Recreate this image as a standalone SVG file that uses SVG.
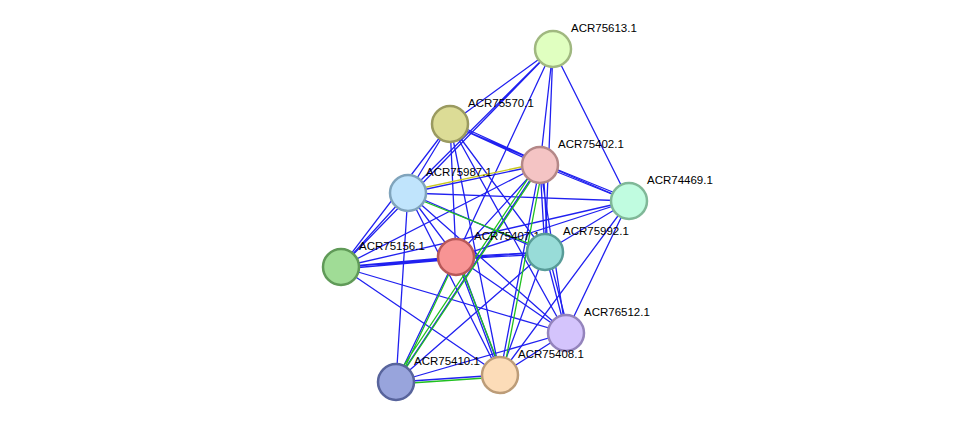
<svg xmlns="http://www.w3.org/2000/svg" width="975" height="428" viewBox="0 0 975 428">
<style>
.e{stroke:#2020f0;stroke-width:1.3;fill:none}
.g{stroke:#20c020;stroke-width:1.3;fill:none}
.y{stroke:#c8c820;stroke-width:1.3;fill:none}
.n{stroke-width:2.5}
text{font-family:"Liberation Sans",Arial,sans-serif;font-size:11.5px;fill:#000}
</style>
<rect width="975" height="428" fill="#fff"/>
<g id="connectors">
<path class="e" d="M553 49L450 124M553 49L408 193M553 49L540 165M553 49L629 201M553 49L456 257M553 49L545 252M553 49L341 267"/>
<path class="e" d="M450 124L540 165M451 122L541 163M450 124L629 201M450 124L408 193M450 124L341 267M450 124L456 257M450 124L545 252M450 124L566 333M450 124L500 375"/>
<path class="e" d="M540 165L629 201M541 163L630 199M540 165L408 193M540 165L341 267M540 165L456 257M540 165L545 252M543 165L548 252M540 165L566 333M540 165L396 382M540 165L500 375"/>
<path class="e" d="M629 201L408 193M629 201L341 267M629 201L456 257M629 201L545 252M629 201L566 333M629 201L500 375"/>
<path class="e" d="M408 193L341 267M408 193L456 257M408 193L545 252M408 193L566 333M408 193L396 382M408 193L500 375"/>
<path class="e" d="M341 267L456 257M341 269L456 259M341 267L545 252M341 267L566 333M341 267L500 375"/>
<path class="e" d="M456 257L545 252M456 259L545 254M456 257L566 333M456 257L396 382M456 257L500 375M458 257L502 375"/>
<path class="e" d="M545 252L566 333M548 252L569 333M545 252L396 382M545 252L500 375"/>
<path class="e" d="M566 333L500 375M566 333L396 382M396 382L500 375"/>
<path class="y" d="M408 191L540 163"/>
<path class="g" d="M408 195L545 250M540 167L398 380M537 165L394 380M543 165L503 375M456 259L398 382M458 259L502 373M396 384L500 377"/>
</g>
<g id="ACR75613.1"><circle class="n" cx="553" cy="49" r="18" fill="#e0ffc0" stroke="#a0b880"/><text x="571" y="32">ACR75613.1</text></g>
<g id="ACR75570.1"><circle class="n" cx="450" cy="124" r="18" fill="#dcdc96" stroke="#9a9a60"/><text x="468" y="107">ACR75570.1</text></g>
<g id="ACR75402.1"><circle class="n" cx="540" cy="165" r="18" fill="#f4c4c4" stroke="#b48888"/><text x="558" y="148">ACR75402.1</text></g>
<g id="ACR74469.1"><circle class="n" cx="629" cy="201" r="18" fill="#c0fce0" stroke="#80b898"/><text x="647" y="184">ACR74469.1</text></g>
<g id="ACR75987.1"><circle class="n" cx="408" cy="193" r="18" fill="#c0e4fc" stroke="#80a4bc"/><text x="426" y="176">ACR75987.1</text></g>
<g id="ACR75156.1"><circle class="n" cx="341" cy="267" r="18" fill="#a0dc96" stroke="#609a58"/><text x="359" y="250">ACR75156.1</text></g>
<g id="ACR75407.1"><circle class="n" cx="456" cy="257" r="18" fill="#f89494" stroke="#b85858"/><text x="474" y="240">ACR75407.1</text></g>
<g id="ACR75992.1"><circle class="n" cx="545" cy="252" r="18" fill="#98dcd8" stroke="#589c98"/><text x="563" y="235">ACR75992.1</text></g>
<g id="ACR76512.1"><circle class="n" cx="566" cy="333" r="18" fill="#d4c4fc" stroke="#9484bc"/><text x="584" y="316">ACR76512.1</text></g>
<g id="ACR75410.1"><circle class="n" cx="396" cy="382" r="18" fill="#98a4dc" stroke="#58649c"/><text x="414" y="365">ACR75410.1</text></g>
<g id="ACR75408.1"><circle class="n" cx="500" cy="375" r="18" fill="#fcdcb8" stroke="#bc9c78"/><text x="518" y="358">ACR75408.1</text></g>
</svg>
